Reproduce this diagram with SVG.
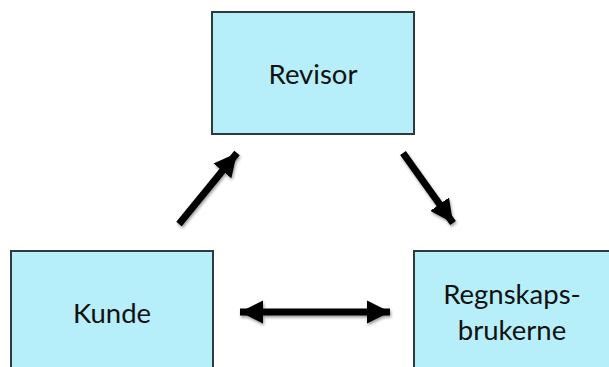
<svg xmlns="http://www.w3.org/2000/svg" width="609" height="367" viewBox="0 0 609 367">
<style>
.box{fill:#b6eefa;stroke:#2f3a3c;stroke-width:2}
.lbl{font-family:Lato,"Open Sans",sans-serif;font-size:27.5px;fill:#111;text-anchor:middle}
.arr{stroke:#000;stroke-width:7;fill:none}
</style>
<defs>
<filter id="sh" x="-20%" y="-20%" width="140%" height="140%">
<feGaussianBlur in="SourceAlpha" stdDeviation="1.5"/>
<feOffset dx="1" dy="2" result="b"/>
<feComponentTransfer><feFuncA type="linear" slope="0.4"/></feComponentTransfer>
<feMerge><feMergeNode/><feMergeNode in="SourceGraphic"/></feMerge>
</filter>
<marker id="ah" viewBox="0 0 10 10" refX="10" refY="5" markerWidth="3.3" markerHeight="3.3" markerUnits="strokeWidth" orient="auto-start-reverse">
<path d="M0,0 L10,5 L0,10 Z" fill="#000"/>
</marker>
</defs>
<g id="revisor">
<rect class="box" x="212" y="12" width="202" height="122"/>
<text class="lbl" x="313" y="84">Revisor</text>
</g>
<g id="kunde">
<rect class="box" x="11" y="251" width="202" height="130"/>
<text class="lbl" x="112" y="323">Kunde</text>
</g>
<g id="regnskapsbrukerne">
<rect class="box" x="414" y="251" width="210" height="130"/>
<text class="lbl" x="512" y="304">Regnskaps-</text>
<text class="lbl" x="512" y="340">brukerne</text>
</g>
<g id="connectors" filter="url(#sh)">
<line class="arr" x1="179" y1="224" x2="237" y2="153" marker-end="url(#ah)"/>
<line class="arr" x1="403" y1="153" x2="453" y2="223" marker-end="url(#ah)"/>
<line class="arr" x1="240" y1="312" x2="390" y2="312" marker-start="url(#ah)" marker-end="url(#ah)"/>
</g>
</svg>
